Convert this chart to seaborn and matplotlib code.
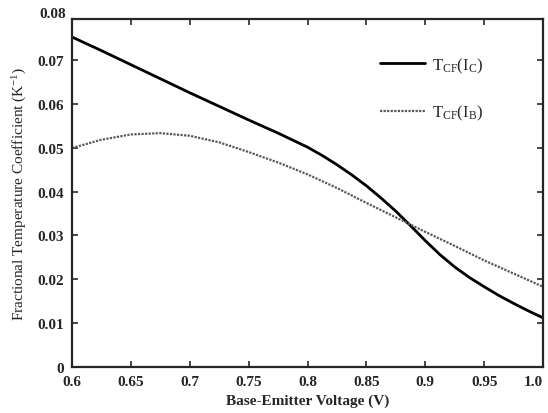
import matplotlib
matplotlib.use("Agg")
import pandas as pd
import seaborn as sns
from matplotlib import pyplot as plt
from matplotlib import transforms

# Valores
vbe_ic = [0.60, 0.625, 0.65, 0.675, 0.70, 0.725, 0.75, 0.7625, 0.775, 0.7875, 0.80, 0.8125,
          0.825, 0.8375, 0.85, 0.8625, 0.875, 0.8875, 0.90, 0.9125, 0.925,
          0.9375, 0.95, 0.9625, 0.975, 0.9875, 1.00]
tcf_ic = [0.0752, 0.0721, 0.0689, 0.0657, 0.0625, 0.0594, 0.0563, 0.0548, 0.0533, 0.0517, 0.0501, 0.0482,
          0.0461, 0.0438, 0.0413, 0.0385, 0.0355, 0.0322, 0.0288, 0.0256, 0.0228,
          0.0204, 0.0183, 0.0163, 0.0145, 0.0128, 0.0112]

vbe_ib = [0.60, 0.625, 0.65, 0.675, 0.70, 0.725, 0.75, 0.775, 0.80, 0.825,
          0.85, 0.875, 0.90, 0.925, 0.95, 0.975, 1.00]
tcf_ib = [0.0499, 0.0518, 0.0530, 0.0533, 0.0527, 0.0512, 0.0490, 0.0466, 0.0439, 0.0408,
          0.0374, 0.0341, 0.0308, 0.0276, 0.0243, 0.0213, 0.0183]

xticks = [0.6, 0.65, 0.7, 0.75, 0.8, 0.85, 0.9, 0.95, 1.0]
xticklabels = ["0.6", "0.65", "0.7", "0.75", "0.8", "0.85", "0.9", "0.95", "1.0"]
yticks = [0, 0.01, 0.02, 0.03, 0.04, 0.05, 0.06, 0.07]
yticklabels = ["0", "0.01", "0.02", "0.03", "0.04", "0.05", "0.06", "0.07"]

df_ic = pd.DataFrame({"vbe": vbe_ic, "tcf": tcf_ic})
df_ib = pd.DataFrame({"vbe": vbe_ib, "tcf": tcf_ib})

sns.set_style("ticks")
plt.rcParams["font.family"] = ["Liberation Serif", "DejaVu Serif"]
plt.rcParams["mathtext.fontset"] = "custom"
plt.rcParams["mathtext.rm"] = "Liberation Serif"
plt.rcParams["mathtext.it"] = "Liberation Serif:italic"

fig = plt.figure(figsize=(5.48, 4.14), dpi=100)
ax = fig.add_axes([0.1314, 0.111, 0.8596, 0.8406])

sns.lineplot(data=df_ic, x="vbe", y="tcf", ax=ax, color="black", linewidth=2.0,
             label=r"T$_{\mathrm{CF}}$(I$_{\mathrm{C}}$)")
sns.lineplot(data=df_ib, x="vbe", y="tcf", ax=ax, color="0.35", linewidth=1.6,
             linestyle=(0, (1, 0.6)), label=r"T$_{\mathrm{CF}}$(I$_{\mathrm{B}}$)")

ax.set_xlim(0.6, 1.0)
ax.set_ylim(0, 0.0793)
ax.set_xticks(xticks)
ax.set_xticklabels(xticklabels, fontsize=11, fontweight="bold")
ax.get_xticklabels()[-1].set_horizontalalignment("right")
ax.set_yticks(yticks)
ax.set_yticklabels(yticklabels, fontsize=11, fontweight="bold")
trans = transforms.blended_transform_factory(ax.transAxes, ax.transData)
ax.text(-0.012, 0.0806, "0.08", transform=trans, ha="right", va="center",
        fontsize=11, fontweight="bold")

ax.tick_params(direction="in", top=True, right=True, length=4, width=1.2, pad=6)
for s in ax.spines.values():
    s.set_linewidth(1.6)

ax.set_xlabel("Base-Emitter Voltage (V)", fontsize=11, fontweight="bold", labelpad=4)
ax.set_ylabel(r"Fractional Temperature Coefficient (K$^{\mathrm{-1}}$)", fontsize=11, labelpad=6)

ax.legend(loc="upper left", bbox_to_anchor=(0.653, 0.895), frameon=False, fontsize=12,
          handlelength=2.7, handletextpad=0.42, labelspacing=1.7, borderpad=0,
          borderaxespad=0)

fig.savefig("out.png", dpi=100)
